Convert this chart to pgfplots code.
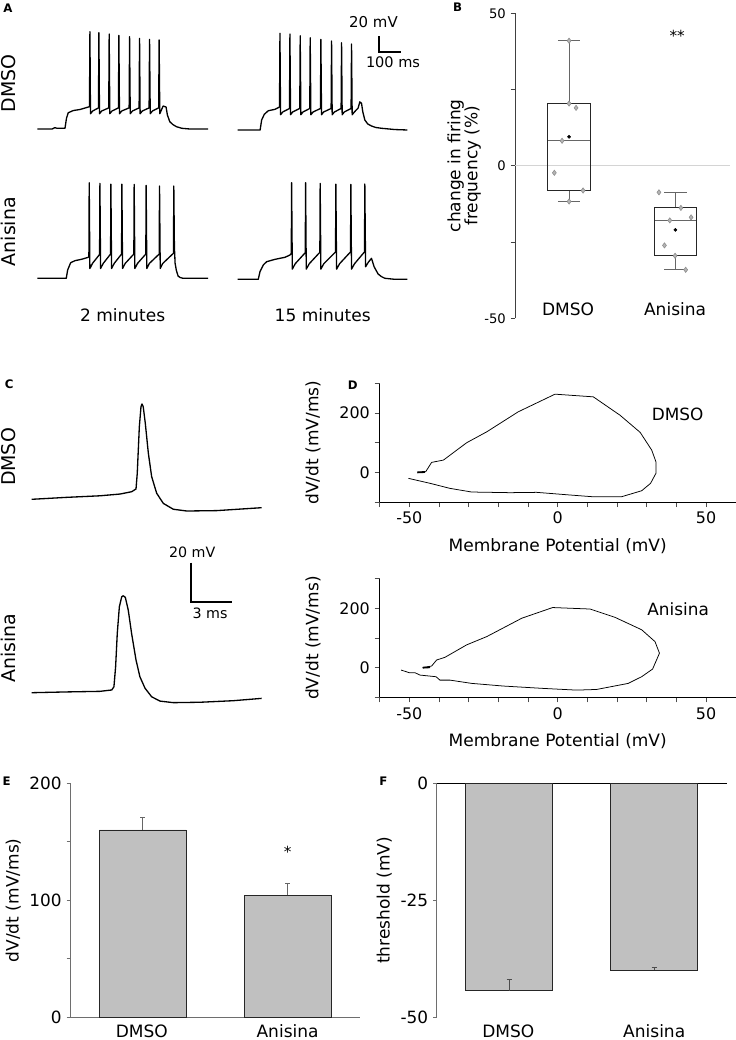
\documentclass[border=0pt]{standalone}
\usepackage{fontspec}
\setmainfont{DejaVu Sans}
\usepackage{pgfplots}
\pgfplotsset{compat=1.18}

\definecolor{barfill}{HTML}{C0C0C0}
\definecolor{axgray}{HTML}{6E6E6E}
\definecolor{diafill}{HTML}{B4B4B4}
\definecolor{diadraw}{HTML}{8C8C8C}
\definecolor{zeroline}{HTML}{D4D4D4}

\newcommand\fs[1]{\fontsize{#1}{#1}\selectfont}

\pgfplotsset{
  /pgf/number format/assume math mode=true,
  trace/.style={hide axis, clip=false, anchor=south west, enlargelimits=false},
  tr/.style={black, line width=0.95pt, line join=round},
}

\begin{document}
\begin{tikzpicture}
\useasboundingbox (0,0) rectangle (7.36in,-10.40in);

% ---------------- Panel A ----------------
\begin{axis}[trace, x=0.0022in, y=0.00783in, xmin=0, xmax=780, ymin=-70, ymax=60, at={(0.373in,-1.29in)}]
\addplot[tr] coordinates {
(0,-70) (67,-70) (80,-68.3) (90,-69.1) (126,-69.1) (133,-56) (141,-49.2) (164,-46.4) (194,-45.1) (217,-43.2) (237.5,-41.5)
(239.5,54.3) (242,-50.5) (252,-47) (278.4,-43)
(280.4,53) (283,-50.5) (293,-47) (325.2,-43)
(327.2,51.3) (330,-50.5) (340,-47) (369.3,-43)
(371.3,49.7) (374,-50.5) (384,-47) (418,-43)
(420,47.9) (423,-50.5) (433,-47) (463.4,-43)
(465.4,45.8) (468,-50.5) (478,-47) (508.9,-43)
(510.9,44.5) (514,-50.5) (524,-47) (552.5,-43)
(554.5,43.7) (557.5,-50.5) (566,-45) (572.7,-40.6) (586,-41.9) (592,-52) (603,-60.7) (617,-64.3) (633.6,-67.1) (658,-69.1) (694,-70) (777,-70)};
\end{axis}

\begin{axis}[trace, x=0.0022in, y=0.00783in, xmin=0, xmax=780, ymin=-70, ymax=60, at={(2.377in,-1.30in)}]
\addplot[tr] coordinates {
(0,-70) (102,-70) (109,-57.2) (121,-50) (139,-45.4) (169.5,-43.6) (187.7,-41) (190.3,-40.5)
(192.3,53.5) (195,-50.5) (205,-47) (235.7,-42.5)
(237.7,52.6) (240.5,-50.5) (250,-47) (282.5,-42.5)
(284.5,50.4) (287.5,-50.5) (297,-47) (328,-42.5)
(330,47.8) (333,-50.5) (343,-47) (376.6,-42.5)
(378.6,45.8) (381.5,-50.5) (391,-47) (425.2,-42.5)
(427.2,43.7) (430,-50.5) (440,-47) (470.7,-42.5)
(472.7,41.5) (475.5,-50.5) (485,-47) (516.1,-42.5)
(518.1,39.8) (521,-50.5) (531,-47) (548,-42) (556,-34) (563.6,-36) (569.5,-47) (578.6,-57.2) (592,-62.3) (609,-64.9) (628.6,-66.8) (654.5,-67.8) (715,-69.4) (772.7,-70)};
% scale bar 20 mV / 100 ms
\addplot[black, line width=1.6pt, line join=miter] coordinates {(642.2,50) (642.2,30) (742.2,30)};
\node[font=\fs{10.8}] at (axis cs:618,67.9) {20 mV};
\node[font=\fs{10.5}] at (axis cs:707,17.2) {100 ms};
\end{axis}

\begin{axis}[trace, x=0.0022in, y=0.00783in, xmin=0, xmax=780, ymin=-70, ymax=60, at={(0.373in,-2.783in)}]
\addplot[tr] coordinates {
(0,-70) (131.8,-70) (138.2,-59.4) (151.8,-50.1) (171.3,-47.5) (201.8,-45.7) (231.8,-43.2) (234.8,-42)
(236.3,52.1) (239.3,-57.5) (251,-51) (283.5,-39.5)
(285,51.3) (288,-57.5) (300,-51) (333.5,-39)
(335,50.4) (338,-57.5) (350,-51) (383.5,-39)
(385,50.4) (388,-57.5) (400,-51) (439.4,-39)
(440.9,50) (444,-57.5) (456,-51) (493.9,-39)
(495.4,48.8) (498.5,-57.5) (510,-51) (554.8,-39)
(556.3,47.9) (559.5,-57.5) (571,-51) (619.8,-38)
(621.3,47.9) (624,-30) (627.2,-50.8) (633,-60) (640.9,-67.1) (650,-69) (663.6,-70) (777,-70)};
\end{axis}

\begin{axis}[trace, x=0.0022in, y=0.00783in, xmin=0, xmax=780, ymin=-70, ymax=60, at={(2.377in,-2.793in)}]
\addplot[tr] coordinates {
(0,-70) (93.6,-70) (101.4,-60.3) (116.4,-51.7) (131.8,-47.5) (169.5,-44.5) (215,-41.9) (237.7,-39) (243.9,-37)
(245.4,53.4) (248.5,-57) (262,-50) (307.5,-36)
(309,53.4) (312,-57) (326,-50) (373.9,-35.5)
(375.4,52.6) (378.5,-57) (392,-50) (445.3,-35)
(446.8,51.7) (450,-57) (464,-50) (513.5,-35)
(515,51.3) (518,-57) (532,-50) (577.1,-35)
(578.6,51.7) (582,-54) (595,-48) (609,-43.2) (620.8,-53.9) (639,-63.2) (654,-66.5) (669.5,-68.7) (715,-70) (772.7,-70)};
\end{axis}

% ---------------- Panel B ----------------
\begin{axis}[at={(5.15in,-3.183in)}, anchor=south west, scale only axis,
  width=2.152in, height=3.05in, xmin=0.49, xmax=2.52, ymin=-50, ymax=50,
  axis x line=none, axis y line*=left, clip=false,
  ytick={-50,0,50}, minor ytick={-25,25}, tick align=outside,
  major tick length=0.043in, minor tick length=0.043in,
  y axis line style={black!75, line width=0.7pt},
  every tick/.style={black!75, line width=0.7pt},
  yticklabel style={font=\fs{9.5}},
  ylabel={change in firing\\frequency (\%)},
  every axis y label/.style={at={(axis description cs:-0.236,0.5)}, anchor=center, rotate=90, align=center, font=\fs{12.3}}]
\addplot[zeroline, line width=0.9pt] coordinates {(0.49,0) (2.52,0)};
% whiskers, caps and medians
\addplot[black!60, line width=0.8pt, unbounded coords=jump] coordinates {
(1,20.4) (1,41) (nan,nan) (0.895,41) (1.105,41) (nan,nan)
(1,-8.1) (1,-11.7) (nan,nan) (0.895,-11.7) (1.105,-11.7) (nan,nan)
(0.8,8.2) (1.2,8.2) (nan,nan)
(2.003,-13.8) (2.003,-8.7) (nan,nan) (1.898,-8.7) (2.108,-8.7) (nan,nan)
(2.003,-29.5) (2.003,-34.1) (nan,nan) (1.898,-34.1) (2.108,-34.1) (nan,nan)
(1.803,-17.9) (2.203,-17.9)};
% boxes
\addplot[black!85, line width=0.7pt, unbounded coords=jump] coordinates {
(0.8,-8.1) (1.2,-8.1) (1.2,20.4) (0.8,20.4) (0.8,-8.1) (nan,nan)
(1.803,-29.5) (2.203,-29.5) (2.203,-13.8) (1.803,-13.8) (1.803,-29.5)};
\addplot[only marks, mark=diamond*, mark size=1.9pt, mark options={fill=diafill, draw=diadraw, line width=0.4pt}] coordinates {
(1,41) (1,20.4) (1.066,19.0) (0.934,8.2) (0.861,-2.3) (1.132,-8.1) (1,-11.7)
(1.848,-8.7) (2.055,-13.8) (2.151,-16.9) (1.95,-17.9) (1.9,-26.1) (2.0,-29.5) (2.1,-34.1)};
\addplot[only marks, mark=*, mark size=1.1pt, black] coordinates {(1,9.5) (2.003,-21.0)};
\node[font=\fs{11}, anchor=base] at (axis cs:2.02,40.7) {**};
\node[font=\fs{12.3}, anchor=base] at (axis cs:0.99,-48.95) {DMSO};
\node[font=\fs{12.3}, anchor=base] at (axis cs:2.0,-48.95) {Anisina};
\end{axis}

% ---------------- Panel C ----------------
\begin{axis}[trace, x=0.1387in, y=0.0195in, xmin=0, xmax=17, ymin=-60, ymax=-5, at={(0.317in,-4.993in)}]
\addplot[tr] coordinates {
(0,-60) (2.52,-59) (4.92,-58.2) (6.37,-57.3) (7.21,-56.1) (7.52,-54.7) (7.61,-46.7) (7.76,-22.8) (7.88,-12.5) (7.95,-11.1) (8.04,-12.5) (8.19,-21) (8.41,-36.4) (8.65,-48.4) (9.01,-56.9) (9.49,-62.1) (10.21,-65.1) (11.18,-66) (13.34,-65.8) (16.58,-64.3)};
\end{axis}

\begin{axis}[trace, x=0.1387in, y=0.0195in, xmin=0, xmax=17, ymin=-60, ymax=-5, at={(0.317in,-6.927in)}]
\addplot[tr] coordinates {
(0,-60) (2.52,-59.6) (4.92,-59.3) (5.77,-58.6) (5.93,-56.9) (6.05,-46.7) (6.17,-29.5) (6.32,-15.9) (6.49,-10.8) (6.6,-10.3) (6.75,-11.1) (6.96,-17.6) (7.2,-29.5) (7.52,-43.2) (7.8,-51.8) (8.17,-57.7) (8.65,-62.1) (9.25,-64.3) (10.21,-65.1) (12.13,-64.9) (14.53,-64.1) (16.58,-62.9)};
% scale bar 20 mV / 3 ms
\addplot[black, line width=1.6pt, line join=miter] coordinates {(11.46,6.67) (11.46,-13.33) (14.46,-13.33)};
\node[font=\fs{10.3}] at (axis cs:11.57,12.15) {20 mV};
\node[font=\fs{10.3}] at (axis cs:12.86,-19.5) {3 ms};
\end{axis}

% ---------------- Panel D ----------------
\pgfplotsset{phase/.style={anchor=south west, scale only axis, width=3.56in, height=1.185in,
  xmin=-60, xmax=60, ymin=-100, ymax=300, axis lines*=left, clip=false,
  xtick={-50,0,50}, minor xtick={-60,-40,-30,-20,-10,10,20,30,40},
  ytick={0,200}, minor ytick={-100,100,300}, tick align=outside,
  major tick length=0.05in, minor tick length=0.05in,
  every tick/.style={black!70, line width=0.6pt},
  axis line style={black, line width=0.6pt},
  ticklabel style={font=\fs{11.5}},
  xlabel={Membrane Potential (mV)}, ylabel={dV/dt (mV/ms)},
  every axis x label/.style={at={(axis description cs:0.5,-0.415)}, anchor=base, font=\fs{12.3}},
  every axis y label/.style={at={(axis description cs:-0.187,0.5)}, anchor=center, rotate=90, font=\fs{12.3}}}}

\begin{axis}[phase, at={(3.797in,-5.02in)}]
\addplot[black, line width=0.55pt] coordinates {
(-47.3,0) (-44.5,2.2) (-42.5,33.7) (-38.5,41.6) (-30.7,100) (-23.9,137) (-13.3,204.5) (-0.9,264) (12.0,255) (21.0,193) (27.8,135) (31.7,75) (33.1,36) (33.1,-3.4) (31.3,-37) (28.3,-62) (21.6,-82) (11.5,-82) (4.2,-76.4) (-7.1,-67.4) (-16.1,-68.5) (-29.0,-66.3) (-36.3,-54) (-43.0,-37) (-50.3,-20.2)};
\addplot[black, line width=1.3pt] coordinates {(-47.3,0) (-44.8,1.2)};
\node[font=\fs{12.2}] at (axis cs:40.4,196.5) {DMSO};
\end{axis}

\begin{axis}[phase, at={(3.797in,-6.973in)}]
\addplot[black, line width=0.55pt] coordinates {
(-45.5,0) (-42.5,5.6) (-40.8,26) (-38.0,35) (-30.7,77) (-23.9,105) (-12.1,167) (-1.7,203) (10.9,198) (19.3,170) (28.3,128) (32.8,88) (34.3,49) (32.0,-4.5) (28.3,-30.5) (23.8,-53) (13.1,-73.5) (6.4,-75.7) (-4.8,-70) (-18.3,-62) (-29.0,-53) (-36.3,-42) (-39.7,-42) (-41.0,-30.5) (-46.4,-25) (-48.1,-17) (-50.0,-17) (-52.8,-8)};
\addplot[black, line width=1.3pt] coordinates {(-45.5,0) (-43,1.5)};
\node[font=\fs{12.2}] at (axis cs:40.6,197) {Anisina};
\end{axis}

% ---------------- Panel E ----------------
\begin{axis}[at={(0.703in,-10.173in)}, anchor=south west, scale only axis,
  width=2.897in, height=2.34in, xmin=0.5, xmax=2.5, ymin=0, ymax=200,
  axis lines*=left, clip=false, xtick=\empty,
  ytick={0,100,200}, minor ytick={50,150}, tick align=outside,
  major tick length=0.037in, minor tick length=0.037in,
  every tick/.style={axgray, line width=0.7pt},
  axis line style={axgray, line width=0.8pt},
  yticklabel style={font=\fs{12.2}},
  ylabel={dV/dt (mV/ms)},
  every axis y label/.style={at={(axis description cs:-0.197,0.5)}, anchor=center, rotate=90, font=\fs{12.3}}]
\addplot[ybar, bar width=0.6, fill=barfill, draw=black!85, line width=0.7pt,
  error bars/.cd, y dir=plus, y explicit,
  error bar style={black!60, line width=0.8pt},
  error mark options={rotate=90, mark size=1.8pt, black!60, line width=0.8pt}]
  coordinates {(1,160.1) +- (0,10.6) (2,104.3) +- (0,9.7)};
\node[font=\fs{11}, anchor=base] at (axis cs:2,136.8) {*};
\node[font=\fs{12.3}, anchor=base, yshift=-0.205in] at (axis cs:0.994,0) {DMSO};
\node[font=\fs{12.3}, anchor=base, yshift=-0.205in] at (axis cs:2,0) {Anisina};
\end{axis}

% ---------------- Panel F ----------------
\begin{axis}[at={(4.367in,-10.173in)}, anchor=south west, scale only axis,
  width=2.90in, height=2.34in, xmin=0.5, xmax=2.5, ymin=-50, ymax=0,
  axis y line*=left, axis x line*=top, clip=false, xtick=\empty,
  ytick={-50,-25,0}, tick align=outside,
  major tick length=0.037in,
  every tick/.style={axgray, line width=0.7pt},
  y axis line style={axgray, line width=0.8pt},
  x axis line style={black, line width=0.8pt},
  yticklabel style={font=\fs{12.2}},
  ylabel={threshold (mV)},
  every axis y label/.style={at={(axis description cs:-0.181,0.5)}, anchor=center, rotate=90, font=\fs{12.3}}]
\addplot[ybar, bar width=0.6, fill=barfill, draw=black!85, line width=0.7pt,
  error bars/.cd, y dir=plus, y explicit,
  error bar style={black!70, line width=0.8pt},
  error mark options={rotate=90, mark size=1.8pt, black!70, line width=0.8pt}]
  coordinates {(1,-44.3) +- (0,2.3) (2,-39.9) +- (0,0.6)};
\node[font=\fs{12.3}, anchor=base, yshift=-0.205in] at (axis cs:0.994,-50) {DMSO};
\node[font=\fs{12.3}, anchor=base, yshift=-0.205in] at (axis cs:2,-50) {Anisina};
\end{axis}

% ---------------- Panel letters and row labels ----------------
\node[font=\bfseries\fs{8.5}] at (0.08in,-0.078in) {A};
\node[font=\bfseries\fs{8.5}] at (4.575in,-0.075in) {B};
\node[font=\bfseries\fs{8.5}] at (0.092in,-3.842in) {C};
\node[font=\bfseries\fs{8.5}] at (3.528in,-3.85in) {D};
\node[font=\bfseries\fs{8.5}] at (0.067in,-7.808in) {E};
\node[font=\bfseries\fs{8.5}] at (3.833in,-7.808in) {F};
\node[rotate=90, font=\fs{13.7}] at (0.085in,-0.833in) {DMSO};
\node[rotate=90, font=\fs{13.7}] at (0.085in,-2.317in) {Anisina};
\node[rotate=90, font=\fs{13.7}] at (0.083in,-4.57in) {DMSO};
\node[rotate=90, font=\fs{13.7}] at (0.083in,-6.48in) {Anisina};
\node[font=\fs{12.3}] at (1.227in,-3.15in) {2 minutes};
\node[font=\fs{12.3}] at (3.227in,-3.15in) {15 minutes};
\end{tikzpicture}
\end{document}
